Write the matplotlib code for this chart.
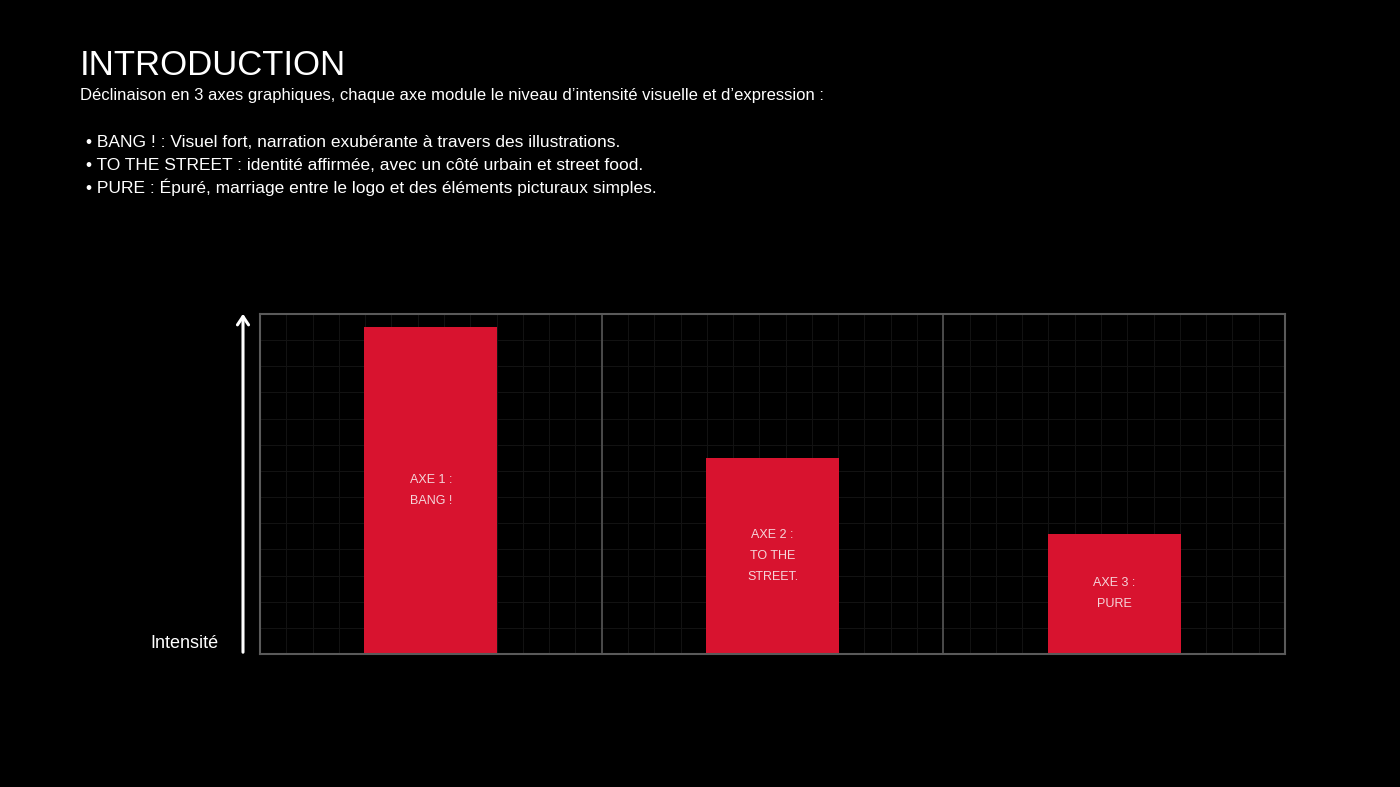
import numpy as np
import matplotlib
matplotlib.use('Agg')
from matplotlib import pyplot as plt

# data
axes_names = ['AXE 1 :\nBANG !', 'AXE 2 :\nTO THE\nSTREET.', 'AXE 3 :\nPURE']
intensity = [12.5, 7.5, 4.6]

title = 'INTRODUCTION'
subtitle = "Déclinaison en 3 axes graphiques, chaque axe module le niveau d’intensité visuelle et d’expression :"
bullets = ['• BANG ! : Visuel fort, narration exubérante à travers des illustrations.',
           '• TO THE STREET : identité affirmée, avec un côté urbain et street food.',
           '• PURE : Épuré, marriage entre le logo et des éléments picturaux simples.']

plt.rcParams['font.family'] = ['Liberation Sans', 'DejaVu Sans']
RED = '#d8132f'

fig = plt.figure(figsize=(14, 7.87), dpi=100, facecolor='black')
W, H = 1400, 787

fig.text(80 / W, 1 - 75 / H, title, color='white', fontsize=25, va='baseline', ha='left')
fig.text(80 / W, 1 - 100 / H, subtitle, color='white', fontsize=12, va='baseline', ha='left')
for i, b in enumerate(bullets):
    fig.text(86 / W, 1 - (147 + 23 * i) / H, b, color='white', fontsize=12.5, va='baseline', ha='left')

ax = fig.add_axes([260 / W, 1 - 654 / H, 1025 / W, 340 / H])
ax.set_facecolor('black')
ax.set_xlim(0, 3)
ax.set_ylim(0, 13)

# faint grid
for gx in np.arange(1, 39) / 13:
    ax.axvline(gx, color='#121212', lw=0.8, zorder=0)
for gy in range(1, 13):
    ax.axhline(gy, color='#121212', lw=0.8, zorder=0)
for sx in [1, 2]:
    ax.axvline(sx, color='#505050', lw=1.3, zorder=1)

pos = np.arange(len(intensity)) + 0.5
ax.bar(pos, intensity, width=0.39, color=RED, zorder=2)
for p, v, name in zip(pos, intensity, axes_names):
    ax.text(p, v / 2, name, color='#f5d5da', fontsize=9, ha='center', va='center',
            linespacing=2.0, zorder=3)

for s in ax.spines.values():
    s.set_color('#5a5a5a')
    s.set_linewidth(1.5)
ax.set_xticks([])
ax.set_yticks([])

# intensity arrow
fig.patches.append(matplotlib.patches.FancyArrowPatch(
    (243 / W, 1 - 655 / H), (243 / W, 1 - 311 / H), transform=fig.transFigure,
    arrowstyle='->,head_width=4,head_length=6', color='white', lw=2.2, mutation_scale=1))
fig.text(218 / W, 1 - 648 / H, 'Intensité', color='white', fontsize=13, ha='right', va='baseline')

fig.savefig('out.png', dpi=100, facecolor='black')
